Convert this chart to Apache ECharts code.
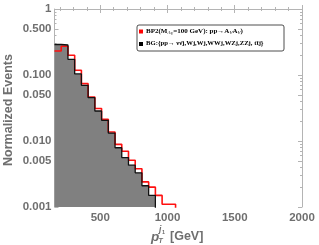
<!DOCTYPE html>
<html><head><meta charset="utf-8">
<script src="https://cdn.jsdelivr.net/npm/echarts@6/dist/echarts.min.js"></script>
<style>html,body{margin:0;padding:0;background:#fff}#c{width:319px;height:245px}</style>
</head><body><div id="c"></div>
<script>
// ---- data ----
const binEdges = [160,210,260,310,360,410,460,510,560,610,660,710,760,810,860,910,960,1010,1060];
const bgValues = [0.29,0.285,0.173,0.104,0.0698,0.0454,0.0285,0.0206,0.0132,0.0079,0.0056,0.0043,0.0033,0.0021,0.0015];
const bp2Values = [0.231,0.272,0.199,0.118,0.074,0.0464,0.031,0.0213,0.0137,0.0089,0.0070,0.0051,0.0038,0.0024,0.0020,0.0015,0.0011,0.0011];
const xTickLabels = [500,1000,1500,2000];
const xMinorTicks = [200,300,400,600,700,800,900,1100,1200,1300,1400,1600,1700,1800,1900];
const yTickLabels = [1,0.5,0.1,0.05,0.01,0.005,0.001];
const yMinorTicks = [0.002,0.003,0.004,0.006,0.007,0.008,0.009,0.02,0.03,0.04,0.06,0.07,0.08,0.09,0.2,0.3,0.4,0.6,0.7,0.8,0.9];
const yLabelText = {'1':'1','0.5':'0.500','0.1':'0.100','0.05':'0.050','0.01':'0.010','0.005':'0.005','0.001':'0.001'};

const L = v => Math.log10(v);
function stepData(vals){
  const d = [];
  for (let i=0;i<vals.length;i++) d.push([binEdges[i], L(vals[i])]);
  d.push([binEdges[vals.length], L(vals[vals.length-1])]);
  d.push([binEdges[vals.length], -4]);
  return d;
}
const frame = '#b4b4b4';
const txt = '#6f6f6f';
const chart = echarts.init(document.getElementById('c'), null, {renderer:'canvas'});
const xBase = {type:'value', min:160, max:2000, gridIndex:0, splitLine:{show:false}};
const yBase = {type:'value', min:-3, max:0, gridIndex:0, splitLine:{show:false}};
chart.setOption({
  animation:false,
  grid:{left:54.5, right:17, top:9, bottom:38, containLabel:false},
  xAxis:[
    Object.assign({}, xBase, {position:'bottom',
      axisLine:{show:true, lineStyle:{color:frame, width:1}},
      axisTick:{show:true, inside:true, length:4, customValues:xTickLabels, lineStyle:{color:frame}},
      axisLabel:{show:true, customValues:xTickLabels, color:txt, fontSize:11.5, fontWeight:'bold', fontFamily:'Liberation Sans', margin:5,
        formatter:function(v){ return String(Math.round(v)); }}}),
    Object.assign({}, xBase, {position:'bottom',
      axisLine:{show:false},
      axisTick:{show:true, inside:true, length:2, customValues:xMinorTicks, lineStyle:{color:frame}},
      axisLabel:{show:false}}),
    Object.assign({}, xBase, {position:'top',
      axisLine:{show:true, lineStyle:{color:frame, width:1}},
      axisTick:{show:true, inside:true, length:4, customValues:xTickLabels, lineStyle:{color:frame}},
      axisLabel:{show:false}}),
    Object.assign({}, xBase, {position:'top',
      axisLine:{show:false},
      axisTick:{show:true, inside:true, length:2, customValues:xMinorTicks, lineStyle:{color:frame}},
      axisLabel:{show:false}})
  ],
  yAxis:[
    Object.assign({}, yBase, {position:'left',
      axisLine:{show:true, lineStyle:{color:frame, width:1}},
      axisTick:{show:true, inside:true, length:4, customValues:yTickLabels.map(L), lineStyle:{color:frame}},
      axisLabel:{show:true, customValues:yTickLabels.map(L), color:txt, fontSize:11.5, fontWeight:'bold', fontFamily:'Liberation Sans', margin:3,
        formatter:function(v){ const r = Math.pow(10, v); const k = String(parseFloat(r.toPrecision(3))); return yLabelText[k] || k; }}}),
    Object.assign({}, yBase, {position:'left',
      axisLine:{show:false},
      axisTick:{show:true, inside:true, length:2, customValues:yMinorTicks.map(L), lineStyle:{color:frame}},
      axisLabel:{show:false}}),
    Object.assign({}, yBase, {position:'right',
      axisLine:{show:true, lineStyle:{color:frame, width:1}},
      axisTick:{show:true, inside:true, length:4, customValues:yTickLabels.map(L), lineStyle:{color:frame}},
      axisLabel:{show:false}}),
    Object.assign({}, yBase, {position:'right',
      axisLine:{show:false},
      axisTick:{show:true, inside:true, length:2, customValues:yMinorTicks.map(L), lineStyle:{color:frame}},
      axisLabel:{show:false}})
  ],
  series:[
    {type:'line', name:'BGfill', xAxisIndex:0, yAxisIndex:0, step:'end', data:stepData(bgValues), symbol:'none',
     lineStyle:{width:0, opacity:0}, areaStyle:{color:'#808080', opacity:1, origin:'start'}, clip:true, z:2},
    {type:'line', name:'BP2', xAxisIndex:0, yAxisIndex:0, step:'end', data:stepData(bp2Values), symbol:'none',
     lineStyle:{width:1.6, color:'#ff1010'}, clip:true, z:3},
    {type:'line', name:'BG', xAxisIndex:0, yAxisIndex:0, step:'end', data:stepData(bgValues), symbol:'none',
     lineStyle:{width:1.3, color:'#111111'}, clip:true, z:4}
  ],
  graphic:[
    {type:'text', x:9, y:110, rotation:Math.PI/2, style:{text:'Normalized Events', fill:txt, font:'bold 12.5px "Liberation Sans"', align:'center', verticalAlign:'middle'}},
    {type:'text', x:151, y:237, style:{text:'p', font:'italic bold 13.5px "Liberation Sans"', fill:txt, verticalAlign:'middle'}},
    {type:'text', x:159, y:229.5, style:{text:'j', font:'italic bold 8.5px "Liberation Sans"', fill:txt, verticalAlign:'middle'}},
    {type:'text', x:162, y:232, style:{text:'1', font:'bold 5.5px "Liberation Sans"', fill:txt, verticalAlign:'middle'}},
    {type:'text', x:158.5, y:241.5, style:{text:'T', font:'italic bold 7px "Liberation Sans"', fill:txt, verticalAlign:'middle'}},
    {type:'text', x:170, y:236.5, style:{text:'[GeV]', font:'bold 12.5px "Liberation Sans"', fill:txt, verticalAlign:'middle'}},
    {type:'rect', shape:{x:137, y:25, width:147, height:26, r:2}, style:{fill:'#fff', stroke:'#222', lineWidth:0.8}, z:10},
    {type:'rect', shape:{x:139, y:29.5, width:4, height:4}, style:{fill:'#ff0000'}, z:11},
    {type:'rect', shape:{x:139, y:42, width:4, height:4}, style:{fill:'#000'}, z:11},
    {type:'text', x:146, y:31.5, z:11, style:{
      text:'{a|BP2(M}{s|A}{ss|V}{a|=100 GeV): pp→A}{s|V}{a|A}{s|V}{a|)}',
      verticalAlign:'middle',
      rich:{
        a:{font:'bold 7px "Liberation Serif"', fill:'#000'},
        s:{font:'italic 5px "Liberation Serif"', fill:'#000', padding:[3,0,0,0]},
        ss:{font:'4px "Liberation Serif"', fill:'#000', padding:[5,0,0,0]}
      }}},
    {type:'text', x:146, y:43.5, z:11, style:{
      text:'BG:{pp→ νν̄j,Wj,Wj,WWj,WZj,ZZj, tt̄j}',
      font:'bold 6.7px "Liberation Serif"', fill:'#000', verticalAlign:'middle'}}
  ]
});
</script></body></html>
